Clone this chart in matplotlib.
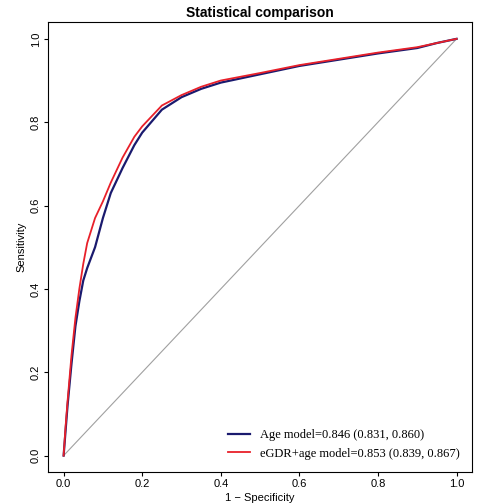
import matplotlib.pyplot as plt

plt.rcParams["font.family"] = ["Liberation Sans", "DejaVu Sans"]

# 1 - specificity and sensitivity
fpr_age = [0, 0.005, 0.01, 0.02, 0.03, 0.04, 0.05, 0.06, 0.08, 0.1, 0.12, 0.15, 0.18, 0.2, 0.25, 0.3,
           0.35, 0.4, 0.5, 0.6, 0.7, 0.8, 0.9, 0.95, 1.0]
tpr_age = [0, 0.06, 0.12, 0.22, 0.31, 0.37, 0.42, 0.45, 0.5, 0.57, 0.63, 0.69, 0.745, 0.775, 0.83, 0.86,
           0.88, 0.895, 0.915, 0.935, 0.95, 0.965, 0.978, 0.99, 1.0]
fpr_egdr = [0, 0.005, 0.01, 0.02, 0.03, 0.04, 0.05, 0.06, 0.08, 0.1, 0.12, 0.15, 0.18, 0.2, 0.25, 0.3,
            0.35, 0.4, 0.5, 0.6, 0.7, 0.8, 0.9, 0.95, 1.0]
tpr_egdr = [0, 0.07, 0.13, 0.24, 0.33, 0.40, 0.46, 0.51, 0.57, 0.61, 0.655, 0.715, 0.765, 0.79, 0.84, 0.865,
            0.885, 0.9, 0.918, 0.937, 0.952, 0.967, 0.98, 0.99, 1.0]
labels = ["Age model=0.846 (0.831, 0.860)", "eGDR+age model=0.853 (0.839, 0.867)"]

fig = plt.figure(figsize=(4.79, 5.04), dpi=100)
ax = fig.add_axes([0.1, 0.063, 0.886, 0.893])
ax.plot([0, 1], [0, 1], color="#a0a0a0", lw=0.8)
ax.plot(fpr_age, tpr_age, color="#1a1a6e", lw=1.6, label=labels[0])
ax.plot(fpr_egdr, tpr_egdr, color="#e8202a", lw=1.3, label=labels[1])
ax.set_xlim(-0.04, 1.04)
ax.set_ylim(-0.04, 1.04)
ticks = [0, 0.2, 0.4, 0.6, 0.8, 1.0]
ax.set_xticks(ticks)
ax.set_yticks(ticks)
ax.set_xticklabels([f"{t:.1f}" for t in ticks], fontsize=8)
ax.set_yticklabels([f"{t:.1f}" for t in ticks], fontsize=8, rotation=90, va="center")
ax.tick_params(length=3, pad=2)
ax.set_xlabel("1 − Specificity", fontsize=8, labelpad=3)
ax.set_ylabel("Sensitivity", fontsize=8, labelpad=3)
ax.set_title("Statistical comparison", fontsize=10, fontweight="bold", pad=4)
leg = ax.legend(loc="lower right", frameon=False, prop={"family": "Liberation Serif", "size": 9},
                handlelength=1.8, borderaxespad=0.6)
fig.savefig("out.png", dpi=100)
